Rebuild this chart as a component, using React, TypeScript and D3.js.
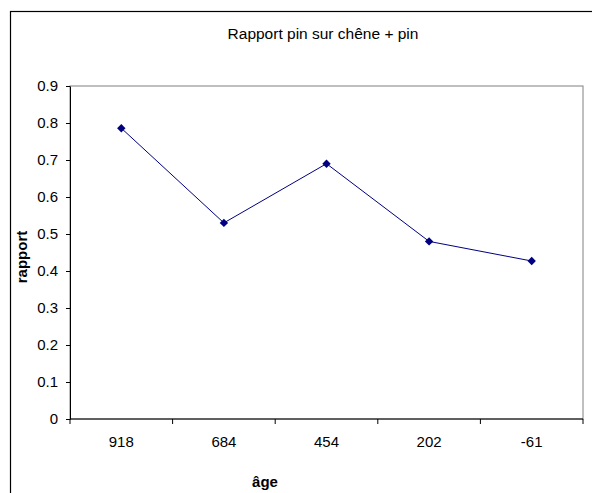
import React, { useEffect, useRef } from "react";
import * as d3 from "d3";

const ages = ["918", "684", "454", "202", "-61"];
const rapport = [0.786, 0.53, 0.69, 0.48, 0.427];
const yTicks = [0, 0.1, 0.2, 0.3, 0.4, 0.5, 0.6, 0.7, 0.8, 0.9];

const App = () => {
  const ref = useRef<SVGSVGElement>(null);
  const width = 592;
  const height = 493;

  useEffect(() => {
    const svg = d3.select(ref.current);
    svg.selectAll("*").remove();

    const font = "'Liberation Sans', Arial, sans-serif";
    const plot = { left: 70, right: 583, top: 86, bottom: 419 };

    // outer chart frame (only top and left edges are visible)
    svg.append("rect")
      .attr("x", 10.5).attr("y", 11.5)
      .attr("width", 600).attr("height", 500)
      .attr("fill", "white")
      .attr("stroke", "black")
      .attr("stroke-width", 1.2);

    const x = d3.scaleBand().domain(ages).range([plot.left, plot.right]);
    const y = d3.scaleLinear().domain([0, 0.9]).range([plot.bottom, plot.top]);

    // plot area border
    svg.append("rect")
      .attr("x", plot.left).attr("y", plot.top)
      .attr("width", plot.right - plot.left)
      .attr("height", plot.bottom - plot.top)
      .attr("fill", "none")
      .attr("stroke", "#808080")
      .attr("stroke-width", 1);

    // y axis
    const yAxis = svg.append("g")
      .attr("transform", `translate(${plot.left},0)`)
      .call(d3.axisLeft(y).tickValues(yTicks).tickSize(4).tickSizeOuter(0).tickFormat((d) => `${d}`));
    yAxis.select(".domain").attr("stroke", "black");
    yAxis.selectAll("line").attr("stroke", "black");
    yAxis.selectAll("text")
      .attr("x", -12)
      .style("font-family", font)
      .style("font-size", "15px")
      .attr("fill", "black");

    // x axis, ticks between categories
    const xg = svg.append("g").attr("transform", `translate(0,${plot.bottom})`);
    xg.append("line")
      .attr("x1", plot.left).attr("x2", plot.right)
      .attr("stroke", "black");
    const bounds = ages.map((a) => x(a) as number).concat([plot.right]);
    xg.selectAll("line.tick")
      .data(bounds)
      .join("line")
      .attr("class", "tick")
      .attr("x1", (d) => d).attr("x2", (d) => d)
      .attr("y1", 0).attr("y2", 5)
      .attr("stroke", "black");
    xg.selectAll("text")
      .data(ages)
      .join("text")
      .attr("x", (d) => (x(d) as number) + x.bandwidth() / 2)
      .attr("y", 28)
      .attr("text-anchor", "middle")
      .style("font-family", font)
      .style("font-size", "15px")
      .text((d) => d);

    // line + markers
    const cx = (i: number) => (x(ages[i]) as number) + x.bandwidth() / 2;
    const line = d3.line<number>()
      .x((d, i) => cx(i))
      .y((d) => y(d));
    svg.append("path")
      .datum(rapport)
      .attr("d", line)
      .attr("fill", "none")
      .attr("stroke", "#000080")
      .attr("stroke-width", 1);

    svg.append("g")
      .selectAll("path")
      .data(rapport)
      .join("path")
      .attr("d", d3.symbol(d3.symbolDiamond2, 45))
      .attr("transform", (d, i) => `translate(${cx(i)},${y(d)})`)
      .attr("fill", "#000080");

    // title and axis labels
    svg.append("text")
      .attr("x", 323).attr("y", 39)
      .attr("text-anchor", "middle")
      .style("font-family", font)
      .style("font-size", "15.5px")
      .text("Rapport pin sur chêne + pin");

    svg.append("text")
      .attr("transform", `translate(27,257) rotate(-90)`)
      .attr("text-anchor", "middle")
      .style("font-family", font)
      .style("font-size", "15px")
      .style("font-weight", "bold")
      .text("rapport");

    svg.append("text")
      .attr("x", 265).attr("y", 487)
      .attr("text-anchor", "middle")
      .style("font-family", font)
      .style("font-size", "15px")
      .style("font-weight", "bold")
      .text("âge");
  }, []);

  return (
    <svg
      ref={ref}
      width={width}
      height={height}
      style={{ position: "absolute", left: 0, top: 0, background: "white" }}
    ></svg>
  );
};

export default App;
